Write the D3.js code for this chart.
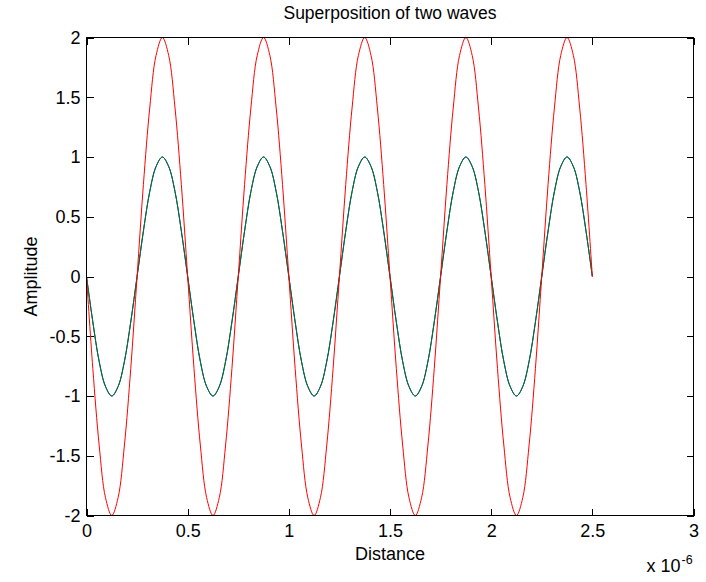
<!DOCTYPE html>
<html>
<head>
<meta charset="utf-8">
<script src="https://cdn.jsdelivr.net/npm/d3@7"></script>
<style>
  body { margin: 0; background: #fff; }
  svg text { font-family: "Liberation Sans", Arial, sans-serif; fill: #000; }
</style>
</head>
<body>
<div id="chart"></div>
<script>
// distance, in units of 1e-6
const distance = [
  0, 0.03125, 0.0625, 0.09375, 0.125, 0.15625, 0.1875, 0.21875, 0.25, 0.28125, 0.3125, 0.34375, 0.375, 0.40625, 0.4375, 0.46875,
  0.5, 0.53125, 0.5625, 0.59375, 0.625, 0.65625, 0.6875, 0.71875, 0.75, 0.78125, 0.8125, 0.84375, 0.875, 0.90625, 0.9375, 0.96875,
  1, 1.03125, 1.0625, 1.09375, 1.125, 1.15625, 1.1875, 1.21875, 1.25, 1.28125, 1.3125, 1.34375, 1.375, 1.40625, 1.4375, 1.46875,
  1.5, 1.53125, 1.5625, 1.59375, 1.625, 1.65625, 1.6875, 1.71875, 1.75, 1.78125, 1.8125, 1.84375, 1.875, 1.90625, 1.9375, 1.96875,
  2, 2.03125, 2.0625, 2.09375, 2.125, 2.15625, 2.1875, 2.21875, 2.25, 2.28125, 2.3125, 2.34375, 2.375, 2.40625, 2.4375, 2.46875,
  2.5
];

// first wave (blue, drawn under the green one)
const waveOne = [
  0, -0.38, -0.71, -0.92, -1, -0.92, -0.71, -0.38, 0, 0.38, 0.71, 0.92, 1, 0.92, 0.71, 0.38,
  0, -0.38, -0.71, -0.92, -1, -0.92, -0.71, -0.38, 0, 0.38, 0.71, 0.92, 1, 0.92, 0.71, 0.38,
  0, -0.38, -0.71, -0.92, -1, -0.92, -0.71, -0.38, 0, 0.38, 0.71, 0.92, 1, 0.92, 0.71, 0.38,
  0, -0.38, -0.71, -0.92, -1, -0.92, -0.71, -0.38, 0, 0.38, 0.71, 0.92, 1, 0.92, 0.71, 0.38,
  0, -0.38, -0.71, -0.92, -1, -0.92, -0.71, -0.38, 0, 0.38, 0.71, 0.92, 1, 0.92, 0.71, 0.38,
  0
];

// second wave (green)
const waveTwo = [
  0, -0.38, -0.71, -0.92, -1, -0.92, -0.71, -0.38, 0, 0.38, 0.71, 0.92, 1, 0.92, 0.71, 0.38,
  0, -0.38, -0.71, -0.92, -1, -0.92, -0.71, -0.38, 0, 0.38, 0.71, 0.92, 1, 0.92, 0.71, 0.38,
  0, -0.38, -0.71, -0.92, -1, -0.92, -0.71, -0.38, 0, 0.38, 0.71, 0.92, 1, 0.92, 0.71, 0.38,
  0, -0.38, -0.71, -0.92, -1, -0.92, -0.71, -0.38, 0, 0.38, 0.71, 0.92, 1, 0.92, 0.71, 0.38,
  0, -0.38, -0.71, -0.92, -1, -0.92, -0.71, -0.38, 0, 0.38, 0.71, 0.92, 1, 0.92, 0.71, 0.38,
  0
];

// superposition (red)
const superposed = [
  0, -0.77, -1.41, -1.85, -2, -1.85, -1.41, -0.77, 0, 0.77, 1.41, 1.85, 2, 1.85, 1.41, 0.77,
  0, -0.77, -1.41, -1.85, -2, -1.85, -1.41, -0.77, 0, 0.77, 1.41, 1.85, 2, 1.85, 1.41, 0.77,
  0, -0.77, -1.41, -1.85, -2, -1.85, -1.41, -0.77, 0, 0.77, 1.41, 1.85, 2, 1.85, 1.41, 0.77,
  0, -0.77, -1.41, -1.85, -2, -1.85, -1.41, -0.77, 0, 0.77, 1.41, 1.85, 2, 1.85, 1.41, 0.77,
  0, -0.77, -1.41, -1.85, -2, -1.85, -1.41, -0.77, 0, 0.77, 1.41, 1.85, 2, 1.85, 1.41, 0.77,
  0
];

const xTicks = [0, 0.5, 1, 1.5, 2, 2.5, 3];
const yTicks = [-2, -1.5, -1, -0.5, 0, 0.5, 1, 1.5, 2];

// set the dimensions and margins of the graph
const margin = {top: 37, right: 13, bottom: 67, left: 86},
  width = 706 - margin.left - margin.right,
  height = 582 - margin.top - margin.bottom;

const svg = d3.select("#chart")
  .append("svg")
  .attr("width", width + margin.left + margin.right)
  .attr("height", height + margin.top + margin.bottom)
  .append("g")
  .attr("transform", `translate(${margin.left + 0.5}, ${margin.top + 0.5})`);

const x = d3.scaleLinear().domain([0, 3]).range([0, width]);
const y = d3.scaleLinear().domain([-2, 2]).range([height, 0]);

const fmt = d => String(d);
const tickLen = 7;

// axes, ticks pointing inward like matlab
svg.append("g")
  .attr("transform", `translate(0, ${height})`)
  .call(d3.axisBottom(x).tickValues(xTicks).tickFormat(fmt).tickSizeInner(-tickLen).tickSizeOuter(0).tickPadding(9))
  .call(g => g.select(".domain").remove());

svg.append("g")
  .call(d3.axisTop(x).tickValues(xTicks).tickFormat("").tickSizeInner(-tickLen).tickSizeOuter(0))
  .call(g => g.select(".domain").remove());

svg.append("g")
  .call(d3.axisLeft(y).tickValues(yTicks).tickFormat(fmt).tickSizeInner(-tickLen).tickSizeOuter(0).tickPadding(6))
  .call(g => g.select(".domain").remove());

svg.append("g")
  .attr("transform", `translate(${width}, 0)`)
  .call(d3.axisRight(y).tickValues(yTicks).tickFormat("").tickSizeInner(-tickLen).tickSizeOuter(0))
  .call(g => g.select(".domain").remove());

svg.selectAll(".tick text")
  .style("font-size", "18px")
  .style("font-family", "'Liberation Sans', Arial, sans-serif");
svg.selectAll(".tick line")
  .attr("stroke", "#000")
  .attr("shape-rendering", "crispEdges");

// lines
const series = [
  {values: waveOne, color: "#0000ff"},
  {values: waveTwo, color: "#008000"},
  {values: superposed, color: "#ff0000"}
];

const line = d3.line()
  .x((d, i) => x(distance[i]))
  .y(d => y(d))
  .curve(d3.curveCatmullRom);

svg.selectAll(".wave")
  .data(series)
  .join("path")
  .attr("class", "wave")
  .attr("fill", "none")
  .attr("stroke", d => d.color)
  .attr("stroke-width", 1)
  .attr("d", d => line(d.values));

// frame
svg.append("rect")
  .attr("x", 0).attr("y", 0)
  .attr("width", width).attr("height", height)
  .attr("fill", "none")
  .attr("stroke", "#000")
  .attr("stroke-width", 1)
  .attr("shape-rendering", "crispEdges");

// title and labels
svg.append("text")
  .attr("x", width / 2)
  .attr("y", -19)
  .attr("text-anchor", "middle")
  .style("font-size", "17.5px")
  .text("Superposition of two waves");

svg.append("text")
  .attr("x", width / 2)
  .attr("y", height + 44)
  .attr("text-anchor", "middle")
  .style("font-size", "18px")
  .text("Distance");

svg.append("text")
  .attr("transform", `translate(${36 - margin.left}, ${height / 2}) rotate(-90)`)
  .attr("text-anchor", "middle")
  .style("font-size", "18px")
  .text("Amplitude");

// exponent label
const expo = svg.append("text")
  .attr("x", width - 47)
  .attr("y", height + 56)
  .style("font-size", "18px")
  .text("x 10");
const expoW = expo.node().getComputedTextLength();
svg.append("text")
  .attr("x", width - 47 + expoW + 1)
  .attr("y", height + 48)
  .style("font-size", "12.5px")
  .text("-6");
</script>
</body>
</html>
